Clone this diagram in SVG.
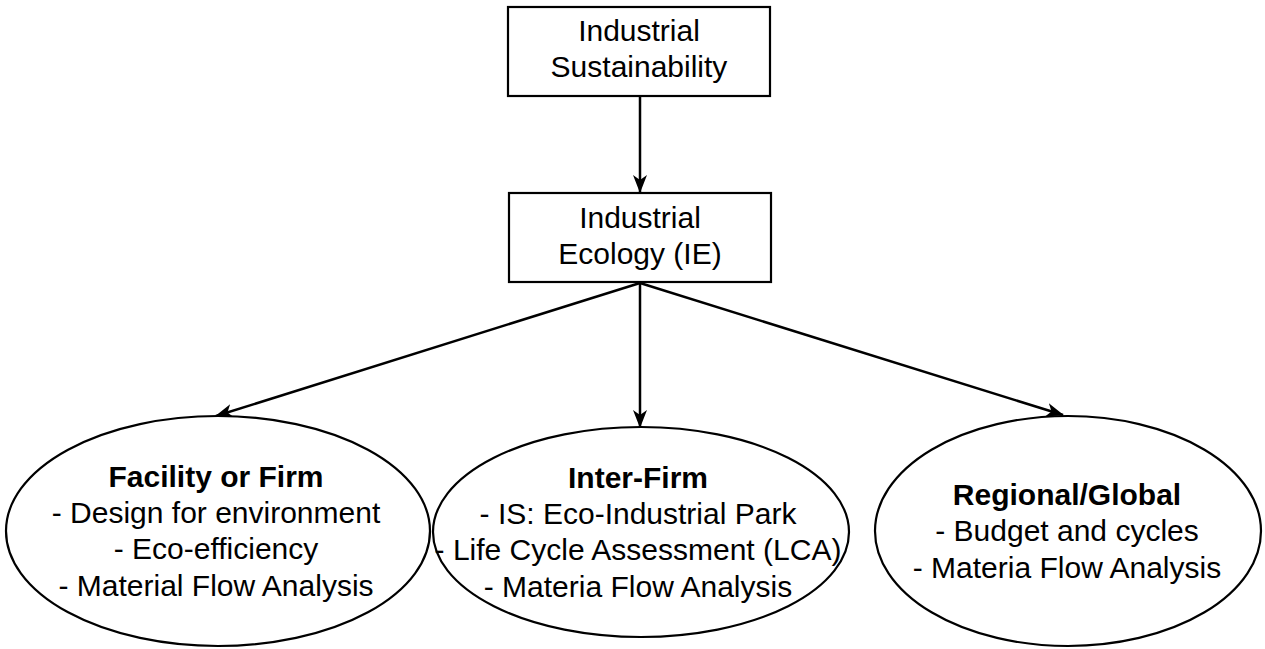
<svg xmlns="http://www.w3.org/2000/svg" width="1265" height="649" viewBox="0 0 1265 649">
  <defs>
    <marker id="arrow" viewBox="0 0 18 14" refX="17" refY="7" markerWidth="18" markerHeight="14" markerUnits="userSpaceOnUse" orient="auto">
      <path d="M0,0 L18,7 L0,14 L5,7 Z" fill="#000"/>
    </marker>
    <style>
      .shape { fill: #fff; stroke: #000; stroke-width: 2.2; }
      .edge { fill: none; stroke: #000; stroke-width: 2.5; marker-end: url(#arrow); }
      text { font-family: "Liberation Sans", Arial, sans-serif; font-size: 30px; fill: #000; text-anchor: middle; }
      .title { font-weight: bold; }
    </style>
  </defs>
  <rect width="1265" height="649" fill="#fff"/>

  <g id="connectors">
    <line class="edge" x1="640" y1="96" x2="640" y2="192"/>
    <line class="edge" x1="640" y1="283" x2="216" y2="416"/>
    <line class="edge" x1="640" y1="283" x2="640" y2="427"/>
    <line class="edge" x1="640" y1="283" x2="1063" y2="415"/>
  </g>

  <g id="industrial-sustainability">
    <rect class="shape" x="508" y="7" width="262" height="89"/>
    <text x="639" y="41">Industrial</text>
    <text x="639" y="77">Sustainability</text>
  </g>

  <g id="industrial-ecology">
    <rect class="shape" x="509" y="193" width="262" height="89"/>
    <text x="640" y="228">Industrial</text>
    <text x="640" y="264">Ecology (IE)</text>
  </g>

  <g id="facility-or-firm">
    <ellipse class="shape" cx="218" cy="531" rx="212" ry="115"/>
    <text class="title" x="216" y="487">Facility or Firm</text>
    <text x="216" y="523">- Design for environment</text>
    <text x="216" y="559">- Eco-efficiency</text>
    <text x="216" y="596">- Material Flow Analysis</text>
  </g>

  <g id="inter-firm">
    <ellipse class="shape" cx="641" cy="532" rx="208" ry="105"/>
    <text class="title" x="638" y="488">Inter-Firm</text>
    <text x="638" y="524">- IS: Eco-Industrial Park</text>
    <text x="638" y="560">- Life Cycle Assessment (LCA)</text>
    <text x="638" y="597">- Materia Flow Analysis</text>
  </g>

  <g id="regional-global">
    <ellipse class="shape" cx="1068" cy="531" rx="193" ry="115"/>
    <text class="title" x="1067" y="505">Regional/Global</text>
    <text x="1067" y="541">- Budget and cycles</text>
    <text x="1067" y="578">- Materia Flow Analysis</text>
  </g>
</svg>
